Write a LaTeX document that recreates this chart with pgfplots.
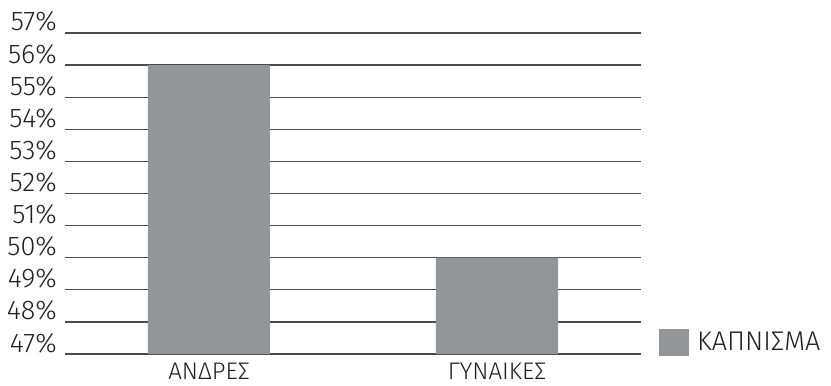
\documentclass[border=0pt]{standalone}
\usepackage{fontspec}
\setmainfont{Fira Sans}[UprightFont={* Light}]
\usepackage{pgfplots}
\pgfplotsset{compat=1.18}
\definecolor{barfill}{HTML}{939598}
\definecolor{gridcol}{HTML}{4A4A4A}
\definecolor{txt}{HTML}{231F20}
\begin{document}
\begin{tikzpicture}
\begin{axis}[
  name=main,
  at={(0,0)}, anchor=south west,
  scale only axis, width=576pt, height=321pt,
  xmin=-0.5, xmax=1.5, ymin=47, ymax=57,
  axis line style={draw=none},
  ytick={47,48,...,57},
  yticklabels={47\%,48\%,49\%,50\%,51\%,52\%,53\%,54\%,55\%,56\%,57\%},
  xtick={0,1},
  xticklabels={ΑΝΔΡΕΣ,ΓΥΝΑΙΚΕΣ},
  major tick length=0pt,
  ymajorgrids, clip=false,
  grid style={gridcol, line width=1.2pt},
  tick label style={text=txt},
  yticklabel style={font=\fontsize{27}{30}\selectfont, anchor=base east,
    inner sep=0pt, xshift=-8pt, yshift=2pt},
  xticklabel style={font=\fontsize{24}{27}\selectfont, anchor=north,
    inner sep=0pt, yshift=-9pt},
  ybar, bar width=122pt,
  legend style={draw=none, fill=none, at={(1,0)}, anchor=south west,
    xshift=18pt, yshift=-2pt, font=\fontsize{27}{30}\selectfont, text=txt,
    inner sep=0pt, row sep=0pt},
  legend image code/.code={\fill[barfill] (0pt,-13.5pt) rectangle (30pt,13.5pt);},
]
\addplot[fill=barfill, draw=none] coordinates {(0,56) (1,50)};
\addlegendentry{\hspace{6pt}ΚΑΠΝΙΣΜΑ}
\end{axis}
\path (main.south west) ++(-65pt,-32pt) rectangle ++(831pt,386pt);
\end{tikzpicture}
\end{document}
